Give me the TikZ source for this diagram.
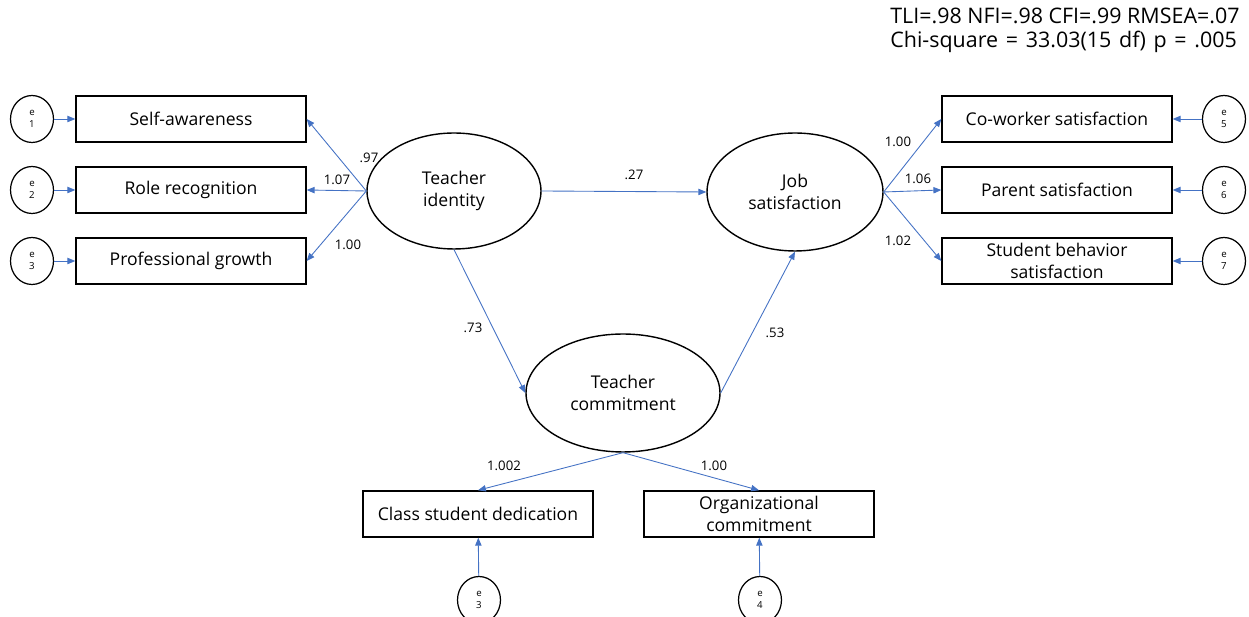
\documentclass[tikz,border=0pt]{standalone}
\usepackage{fontspec}
\setmainfont{Open Sans}
\usetikzlibrary{arrows.meta,shapes.geometric}
\definecolor{pathblue}{RGB}{68,114,196}
\tikzset{
  obsbox/.style={draw,line width=0.8pt,minimum width=4.6cm,minimum height=0.92cm,inner sep=1pt,align=center,font=\fontsize{10}{12.5}\selectfont},
  latent/.style={draw,ellipse,line width=0.8pt,inner sep=0pt,align=center,font=\fontsize{10}{12.5}\selectfont},
  errcirc/.style={draw,ellipse,line width=0.7pt,minimum width=0.86cm,minimum height=0.94cm,inner sep=0pt,align=center,font=\fontsize{5.5}{6.8}\selectfont},
  link/.style={draw=pathblue,line width=0.5pt,-{Triangle[length=4.5pt,width=3.6pt]}},
  coef/.style={inner sep=0pt,font=\fontsize{7.5}{9}\selectfont}
}
\begin{document}
\begin{tikzpicture}[x=0.02cm,y=-0.02cm]
\useasboundingbox (0,0) rectangle (1249,617);
\node[anchor=north west,align=left,inner sep=0pt,font=\fontsize{12.2}{13.4}\selectfont] (fitidx) at (890,8) {TLI=.98 NFI=.98 CFI=.99 RMSEA=.07\\{\spaceskip=0.36em\relax Chi-square = 33.03(15 df) p = .005}};
\node[latent,minimum width=3.48cm,minimum height=2.32cm] (ident) at (454,191) {Teacher\\identity};
\node[latent,minimum width=3.52cm,minimum height=2.36cm] (jobsat) at (795,192) {Job\\satisfaction};
\node[latent,minimum width=3.88cm,minimum height=2.36cm] (commit) at (623,393) {Teacher\\commitment};
\foreach \i/\yy/\txt in {1/119/Self-awareness,2/190/Role recognition,3/261/Professional growth}{
  \node[obsbox] (ti\i) at (191,\yy) {\txt};
  \node[errcirc] (e\i) at (32,\yy) {e\\\i};
  \draw[link] (e\i) -- (ti\i);
  \draw[link] (ident.west) -- (ti\i.east);
}
\foreach \i/\yy/\txt in {5/119/Co-worker satisfaction,6/190/Parent satisfaction,7/261/{Student behavior\\satisfaction}}{
  \node[obsbox] (js\i) at (1057,\yy) {\txt};
  \node[errcirc] (e\i) at (1224,\yy) {e\\\i};
  \draw[link] (e\i) -- (js\i);
  \draw[link] (jobsat.east) -- (js\i.west);
}
\node[obsbox] (cls) at (478,514) {Class student dedication};
\node[obsbox] (org) at (759,514) {Organizational\\commitment};
\node[errcirc] (eb3) at (479,600) {e\\3};
\node[errcirc] (eb4) at (760,600) {e\\4};
\draw[link] (eb3) -- (cls);
\draw[link] (eb4) -- (org);
\draw[link] (ident.east) -- (jobsat.west);
\draw[link] (ident.south) -- (commit.west);
\draw[link] (commit.east) -- (jobsat.south);
\draw[link] (commit.south) -- (cls.north);
\draw[link] (commit.south) -- (org.north);
\node[coef] (l1) at (369,158) {.97};
\node[coef] (l2) at (337,180) {1.07};
\node[coef] (l3) at (348,245) {1.00};
\node[coef] (l5) at (898,142) {1.00};
\node[coef] (l6) at (918,179) {1.06};
\node[coef] (l7) at (898,241) {1.02};
\node[coef] (s1) at (634,175) {.27};
\node[coef] (s2) at (473,328) {.73};
\node[coef] (s3) at (775,333) {.53};
\node[coef] (l8) at (504,466) {1.002};
\node[coef] (l9) at (714,466) {1.00};
\end{tikzpicture}
\end{document}
